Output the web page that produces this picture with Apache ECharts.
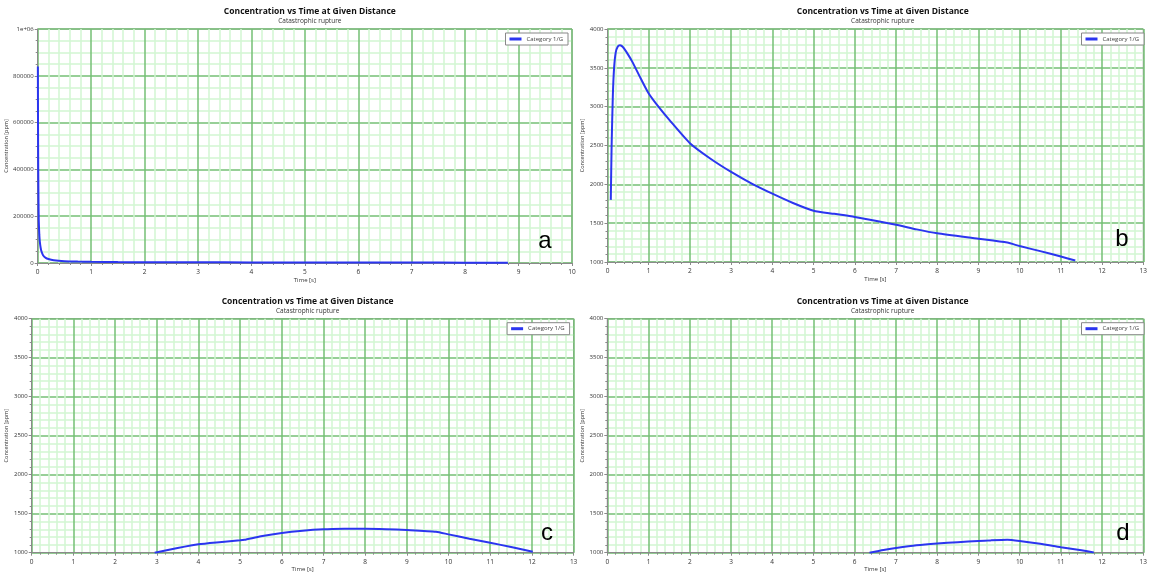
<!DOCTYPE html>
<html>
<head>
<meta charset="utf-8">
<script src="https://cdn.jsdelivr.net/npm/echarts@6/dist/echarts.min.js"></script>
<style>html,body{margin:0;padding:0;background:#fff}#c{width:1150px;height:576px}</style>
</head>
<body>
<div id="c"></div>
<script>
// Data (time [s], concentration [ppm])
const titleText = 'Concentration vs Time at Given Distance';
const subtitleText = 'Catastrophic rupture';
const seriesName = 'Category 1/G';
const xName = 'Time [s]';
const yName = 'Concentration [ppm]';
const panelLetters = ['a', 'b', 'c', 'd'];

const timeA = [0.003, 0.006, 0.01, 0.015, 0.02, 0.03, 0.04, 0.055, 0.07, 0.1, 0.15, 0.2, 0.3, 0.5, 0.75, 1, 1.5, 2, 3, 4, 5, 6, 7, 8, 8.8];
const concA = [840000, 600000, 400000, 260000, 180000, 120000, 90000, 65000, 50000, 33000, 22000, 17000, 12000, 8000, 6000, 5000, 4000, 3500, 3000, 2600, 2300, 2000, 1800, 1600, 1500];

const timeB = [0.08, 0.1, 0.13, 0.16, 0.2, 0.25, 0.3, 0.35, 0.4, 0.5, 0.6, 0.8, 1.0, 1.25, 1.5, 2, 2.5, 3, 3.5, 4, 4.5, 5, 5.5, 6, 7, 7.5, 8, 9, 9.7, 10, 10.5, 11, 11.35];
const concB = [1800, 2500, 3150, 3500, 3700, 3775, 3790, 3780, 3750, 3670, 3580, 3370, 3170, 2990, 2830, 2530, 2330, 2160, 2010, 1880, 1760, 1660, 1620, 1580, 1480, 1420, 1370, 1300, 1250, 1205, 1140, 1070, 1020];

const timeC = [2.95, 3.5, 4, 4.5, 5, 5.1, 5.5, 6, 6.5, 7, 7.5, 8, 8.5, 9, 9.7, 10, 10.5, 11, 11.5, 12.02];
const concC = [1000, 1060, 1108, 1135, 1159, 1165, 1210, 1253, 1282, 1300, 1307, 1308, 1302, 1291, 1269, 1235, 1180, 1128, 1072, 1013];

const timeD = [6.36, 6.7, 7, 7.5, 8, 8.5, 9, 9.3, 9.7, 10, 10.5, 11, 11.5, 11.8];
const concD = [1000, 1035, 1060, 1095, 1118, 1135, 1150, 1158, 1165, 1150, 1115, 1070, 1030, 1003];

const xMaxs = [10, 13, 13, 13];
const yMins = [0, 1000, 1000, 1000];
const yMaxs = [1000000, 4000, 4000, 4000];
const yIntervals = [200000, 500, 500, 500];
const yMinorSplits = [4, 5, 5, 5];

function zip(t, v) { return t.map((x, i) => [x, v[i]]); }
const allData = [zip(timeA, concA), zip(timeB, concB), zip(timeC, concC), zip(timeD, concD)];

// Layout
const grids = [
  {left: 37.7, top: 29, width: 534.3, height: 234},
  {left: 607.5, top: 29, width: 540.5, height: 233},
  {left: 31.7, top: 318.7, width: 541.9, height: 234},
  {left: 607.3, top: 318.7, width: 540.7, height: 234}
];
const letterPos = [[545, 241], [1122, 239], [547, 533], [1123, 533]];

const majorColor = '#74bf74';
const minorColor = '#d2f6d2';
const axisColor = '#8a8a8a';
const lineColor = '#2b35f0';

const option = {
  animation: false,
  backgroundColor: '#fff',
  title: grids.map(g => ({
    text: titleText,
    subtext: subtitleText,
    left: g.left + g.width / 2,
    textAlign: 'center',
    top: g.top - 27,
    itemGap: 2,
    textStyle: {fontFamily: 'Open Sans', fontSize: 8.5, fontWeight: 'bold', color: '#111'},
    subtextStyle: {fontFamily: 'Open Sans', fontSize: 6.5, color: '#333'}
  })),
  legend: grids.map((g, i) => ({
    data: [seriesName],
    right: 1150 - (g.left + g.width) + 4,
    top: g.top + 4,
    orient: 'vertical',
    backgroundColor: '#fff',
    borderColor: '#888',
    borderWidth: 1,
    borderRadius: 0,
    padding: [3, 5, 3, 4],
    itemWidth: 12,
    itemHeight: 3,
    icon: 'rect',
    textStyle: {fontFamily: 'Open Sans', fontSize: 6, color: '#444'}
  })),
  grid: grids.map(g => Object.assign({show: true, borderColor: axisColor, borderWidth: 1, backgroundColor: '#fff', containLabel: false}, g)),
  xAxis: grids.map((g, i) => ({
    type: 'value', gridIndex: i, min: 0, max: xMaxs[i], interval: 1,
    name: xName, nameLocation: 'middle', nameGap: 13,
    nameTextStyle: {fontFamily: 'Open Sans', fontSize: 6, color: '#333'},
    axisLine: {show: true, onZero: false, lineStyle: {color: axisColor}},
    axisTick: {show: true, length: 3, lineStyle: {color: axisColor}},
    minorTick: {show: true, splitNumber: 5, length: 2, lineStyle: {color: axisColor}},
    axisLabel: {fontFamily: 'Open Sans', fontSize: 6.5, color: '#333', margin: 6},
    splitLine: {show: true, lineStyle: {color: majorColor, width: 1.5}},
    minorSplitLine: {show: true, lineStyle: {color: minorColor, width: 1.5}}
  })),
  yAxis: grids.map((g, i) => ({
    type: 'value', gridIndex: i, min: yMins[i], max: yMaxs[i], interval: yIntervals[i],
    name: yName, nameLocation: 'middle', nameGap: i === 0 ? 28 : 22,
    nameTextStyle: {fontFamily: 'Open Sans', fontSize: 5.5, color: '#333'},
    axisLine: {show: true, onZero: false, lineStyle: {color: axisColor}},
    axisTick: {show: true, length: 3, lineStyle: {color: axisColor}},
    minorTick: {show: true, splitNumber: yMinorSplits[i], length: 2, lineStyle: {color: axisColor}},
    axisLabel: {fontFamily: 'Open Sans', fontSize: 6, color: '#333', margin: 4,
      formatter: v => (v === 1000000 ? '1e+06' : String(v))},
    splitLine: {show: true, lineStyle: {color: majorColor, width: 1.5}},
    minorSplitLine: {show: true, lineStyle: {color: minorColor, width: 1.5}}
  })),
  series: allData.map((d, i) => ({
    name: seriesName, type: 'line', xAxisIndex: i, yAxisIndex: i,
    data: d, showSymbol: false, symbol: 'none', smooth: 0.2,
    lineStyle: {color: lineColor, width: 2}, itemStyle: {color: lineColor}
  })),
  graphic: letterPos.map((p, i) => ({
    type: 'text', x: p[0], y: p[1], z: 100,
    style: {text: panelLetters[i], fontFamily: 'Liberation Sans', fontSize: 24, fill: '#000', align: 'center', verticalAlign: 'middle'}
  }))
};

const chart = echarts.init(document.getElementById('c'), null, {renderer: 'canvas'});
chart.setOption(option);
</script>
</body>
</html>
